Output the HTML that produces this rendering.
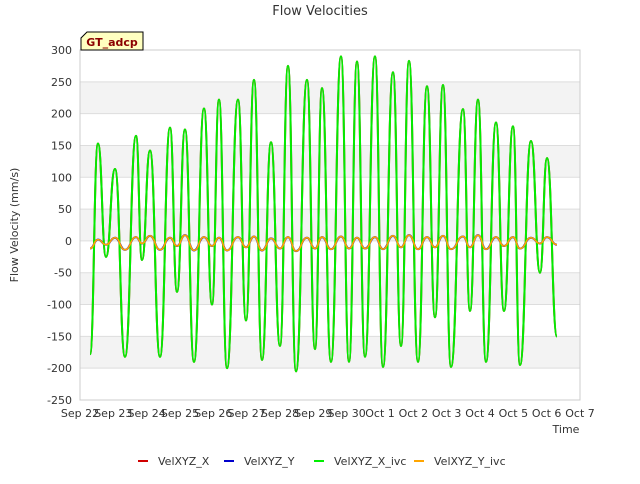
<!DOCTYPE html>
<html><head><meta charset="utf-8"><style>
body{margin:0;background:#fff;font-family:"DejaVu Sans","Liberation Sans",sans-serif}
svg text{font-family:"DejaVu Sans","Liberation Sans",sans-serif}
</style></head><body>
<svg id="c" width="640" height="480" xmlns="http://www.w3.org/2000/svg">
<rect width="640" height="480" fill="#fff"/>
<g id="bands"></g><g id="grid"></g>
<rect x="80" y="50" width="500" height="350" fill="none" stroke="#ccc"/>
<g id="series"></g><g id="axes"></g>
<text x="320" y="15" text-anchor="middle" font-size="13" fill="#333">Flow Velocities</text>
<text transform="translate(18,225) rotate(-90)" text-anchor="middle" font-size="11" fill="#333">Flow Velocity (mm/s)</text>
<text x="566" y="433" text-anchor="middle" font-size="11" fill="#333">Time</text>
<g>
<path d="M81,50 L81,38 L87,32 L143,32 L143,50 Z" fill="#ffffc0" stroke="#000"/>
<text x="112" y="46" text-anchor="middle" font-size="11" font-weight="bold" fill="#8b0000">GT_adcp</text>
</g>
<g id="legend"></g>
</svg>
<script>
const yTicks=[300,250,200,150,100,50,0,-50,-100,-150,-200,-250];
const xTickLabels=["Sep 22","Sep 23","Sep 24","Sep 25","Sep 26","Sep 27","Sep 28","Sep 29","Sep 30","Oct 1","Oct 2","Oct 3","Oct 4","Oct 5","Oct 6","Oct 7"];
const times=[0.30,0.54,0.78,1.05,1.35,1.68,1.86,2.10,2.40,2.70,2.91,3.15,3.42,3.72,3.96,4.17,4.41,4.74,4.98,5.22,5.46,5.73,6.00,6.24,6.48,6.81,7.05,7.26,7.53,7.83,8.07,8.31,8.55,8.85,9.09,9.39,9.63,9.87,10.14,10.41,10.65,10.89,11.13,11.49,11.70,11.94,12.18,12.48,12.72,12.99,13.20,13.53,13.80,14.01,14.31];
const velX=[-178,153,-25,113,-182,165,-30,142,-182,178,-80,175,-190,208,-100,222,-200,222,-125,253,-187,155,-165,275,-205,253,-170,240,-190,290,-190,282,-182,290,-198,265,-165,283,-190,243,-120,245,-198,207,-110,222,-190,186,-110,180,-195,157,-50,130,-150];
const velY=[-12,2,-6,5,-14,6,-4,8,-14,5,-8,9,-15,6,-8,5,-15,6,-10,7,-15,4,-12,6,-16,5,-12,6,-13,7,-12,5,-12,6,-13,8,-10,9,-13,6,-10,8,-13,7,-10,9,-13,6,-8,6,-12,5,-4,6,-6];
const NS="http://www.w3.org/2000/svg";
const X=d=>80+d*500/15, Y=v=>50+(300-v)*350/550;
function el(t,a,p){const e=document.createElementNS(NS,t);for(const k in a)e.setAttribute(k,a[k]);p.appendChild(e);return e;}
const bands=document.getElementById('bands'),grid=document.getElementById('grid'),axes=document.getElementById('axes');
[[250,200],[150,100],[50,0],[-50,-100],[-150,-200]].forEach(b=>{const r=el('rect',{x:80,y:Y(b[0]),width:500,height:Y(b[1])-Y(b[0]),fill:'#f3f3f3'},bands);

});
yTicks.forEach(v=>{el('line',{x1:80,x2:580,y1:Y(v),y2:Y(v),stroke:'#ddd'},grid);
const t=el('text',{x:72,y:Y(v)+4,'text-anchor':'end','font-size':11,fill:'#333'},axes);t.textContent=v;

});
xTickLabels.forEach((s,i)=>{const t=el('text',{x:X(i),y:417,'text-anchor':'middle','font-size':11,fill:'#333'},axes);t.textContent=s;

});
function path(vals){let d='M'+X(times[0])+','+Y(vals[0]);for(let i=1;i<times.length;i++){const x0=X(times[i-1]),x1=X(times[i]),m=(x0+x1)/2;d+=` C${m},${Y(vals[i-1])} ${m},${Y(vals[i])} ${x1},${Y(vals[i])}`;}return d;}
const S=document.getElementById('series');
const series=[[velX,'#d00000','velxyz-x-line',2],[velY,'#0000cc','velxyz-y-line',2],[velX,'#00ee00','velxyz-x-ivc-line',2],[velY,'#ffa500','velxyz-y-ivc-line',1.6]];
series.forEach(s=>{const p=el('path',{d:path(s[0]),fill:'none',stroke:s[1],'stroke-width':s[3]},S);

});
const L=document.getElementById('legend');
[['VelXYZ_X','#d00000',138],['VelXYZ_Y','#0000cc',224],['VelXYZ_X_ivc','#00ee00',314],['VelXYZ_Y_ivc','#ffa500',414]].forEach(l=>{
const g=el('g',{},L);


el('line',{x1:l[2],x2:l[2]+10,y1:461,y2:461,stroke:l[1],'stroke-width':2},g);
const t=el('text',{x:l[2]+20,y:465,'font-size':11,fill:'#333'},g);t.textContent=l[0];});
</script>
</body></html>
